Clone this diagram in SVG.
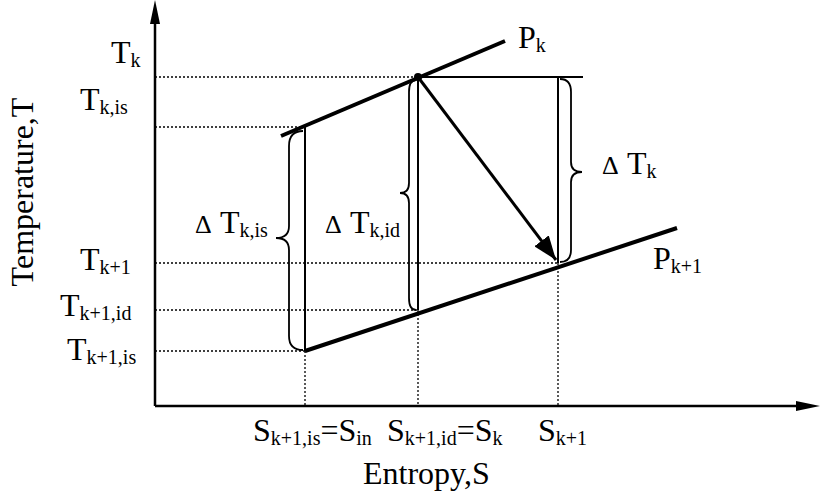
<svg xmlns="http://www.w3.org/2000/svg" width="820" height="498" viewBox="0 0 820 498">
<style>
text{font-family:"Liberation Serif","Times New Roman",serif;font-size:32px;fill:#000}
.sub{font-size:20px}
.dl{font-size:26px}
.dot{stroke:#000;stroke-width:1.3;stroke-dasharray:2,2;fill:none}
.thin{stroke:#000;stroke-width:2;fill:none}
.thick{stroke:#000;stroke-width:4;fill:none}
.axis{stroke:#000;stroke-width:2.5;fill:none}
.brace{stroke:#000;stroke-width:1.8;fill:none}
</style>
<defs>
<marker id="ah" markerWidth="8" markerHeight="6" refX="8" refY="3" orient="auto" markerUnits="strokeWidth"><path d="M0,0 L8,3 L0,6 Z" fill="#000"/></marker>
</defs>
<rect width="820" height="498" fill="#fff"/>
<g id="axes">
<line class="axis" x1="155" y1="406" x2="155" y2="20"/>
<path d="M155,0 L150,24 L160,24 Z" fill="#000"/>
<line class="axis" x1="155" y1="406" x2="800" y2="406"/>
<path d="M820,406 L796,401 L796,411 Z" fill="#000"/>
</g>
<g id="connectors">
<line class="dot" x1="155" y1="77" x2="416" y2="77"/>
<line class="dot" x1="155" y1="127" x2="300" y2="127"/>
<line class="dot" x1="155" y1="263" x2="558" y2="263"/>
<line class="dot" x1="155" y1="310" x2="418" y2="310"/>
<line class="dot" x1="155" y1="351" x2="305" y2="351"/>
<line class="dot" x1="305" y1="351" x2="305" y2="406"/>
<line class="dot" x1="418" y1="310" x2="418" y2="406"/>
<line class="dot" x1="558" y1="263" x2="558" y2="406"/>
<line class="thin" x1="418" y1="77" x2="583" y2="77"/>
<line class="thin" x1="305" y1="127" x2="305" y2="351"/>
<line class="thin" x1="418" y1="77" x2="418" y2="310"/>
<line class="thin" x1="558" y1="77" x2="558" y2="263"/>
<line class="thick" x1="281" y1="136" x2="505" y2="41"/>
<line class="thick" x1="305" y1="351" x2="677" y2="228"/>
<line x1="418" y1="77" x2="556" y2="260" stroke="#000" stroke-width="3" marker-end="url(#ah)"/>
<circle cx="418" cy="77" r="4" fill="#000"/>
<path class="brace" d="M303,131 Q289,131 289,146 L289,226 Q289,238 276,238 Q289,238 289,250 L289,336 Q289,350 303,350"/>
<path class="brace" d="M416,80 Q409,80 409,92 L409,183 Q409,193 400,193 Q409,193 409,203 L409,298 Q409,310 416,310"/>
<path class="brace" d="M560,79 Q571,79 571,92 L571,162 Q571,172 582,172 Q571,172 571,182 L571,250 Q571,262 560,262"/>
</g>
<g id="labels">
<text x="111" y="63">T<tspan class="sub" dy="4">k</tspan></text>
<text x="80" y="110">T<tspan class="sub" dy="4">k,is</tspan></text>
<text x="80" y="270">T<tspan class="sub" dy="4">k+1</tspan></text>
<text x="60" y="316">T<tspan class="sub" dy="4">k+1,id</tspan></text>
<text x="67" y="360">T<tspan class="sub" dy="4">k+1,is</tspan></text>
<text x="518" y="48">P<tspan class="sub" dy="4">k</tspan></text>
<text x="653" y="269">P<tspan class="sub" dy="4">k+1</tspan></text>
<text x="195" y="233"><tspan class="dl">Δ</tspan><tspan x="220">T</tspan><tspan class="sub" dy="4">k,is</tspan></text>
<text x="325" y="233"><tspan class="dl">Δ</tspan><tspan x="350">T</tspan><tspan class="sub" dy="4">k,id</tspan></text>
<text x="602" y="174"><tspan class="dl">Δ</tspan><tspan x="627">T</tspan><tspan class="sub" dy="4">k</tspan></text>
<text x="253" y="441">S<tspan class="sub" dy="4">k+1,is</tspan><tspan dy="-4">=S</tspan><tspan class="sub" dy="4">in</tspan></text>
<text x="387" y="441">S<tspan class="sub" dy="4">k+1,id</tspan><tspan dy="-4">=S</tspan><tspan class="sub" dy="4">k</tspan></text>
<text x="538" y="441">S<tspan class="sub" dy="4">k+1</tspan></text>
<text x="363" y="484">Entropy,S</text>
<text transform="translate(33,192) rotate(-90)" text-anchor="middle">Temperature,T</text>
</g>
</svg>
